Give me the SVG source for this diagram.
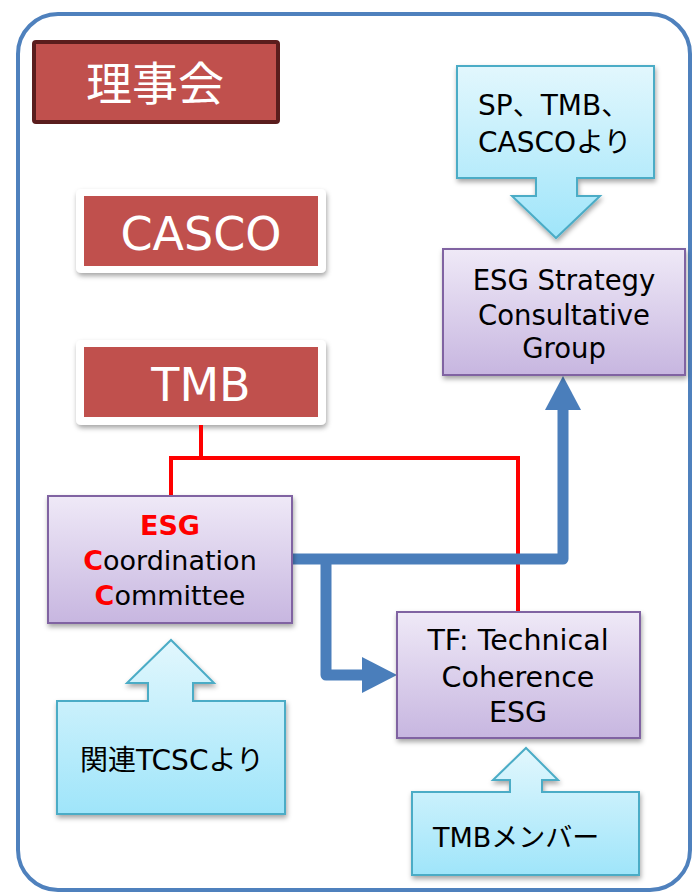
<svg xmlns="http://www.w3.org/2000/svg" width="693" height="892" viewBox="0 0 693 892">
<defs>
<linearGradient id="gPurple" x1="0" y1="0" x2="0" y2="1">
<stop offset="0" stop-color="#efe9f7"/>
<stop offset="1" stop-color="#c7b6e0"/>
</linearGradient>
<linearGradient id="gCyan" x1="0" y1="0" x2="0" y2="1">
<stop offset="0" stop-color="#e2f7fd"/>
<stop offset="1" stop-color="#9fe5fa"/>
</linearGradient>
<filter id="sh" x="-10%" y="-10%" width="125%" height="130%">
<feDropShadow dx="1" dy="3" stdDeviation="2.5" flood-color="#000" flood-opacity="0.35"/>
</filter>
</defs>
<style>
text{font-family:"DejaVu Sans","Noto Sans CJK JP",sans-serif;}
.red{fill:#c0504d;}
.wb{fill:#fff;filter:url(#sh);}
.wt{fill:#fff;font-size:46px;text-anchor:middle;}
.pbox{fill:url(#gPurple);stroke:#8064a2;stroke-width:2;filter:url(#sh);}
.cbox{fill:url(#gCyan);stroke:#4bacc6;stroke-width:2;stroke-linejoin:miter;filter:url(#sh);}
.bt{fill:#000;font-size:28px;}
.mid{text-anchor:middle;}
.rl{fill:none;stroke:#ff0000;stroke-width:4;}
.bl{fill:none;stroke:#4a7ebb;stroke-width:11;stroke-linejoin:round;}
.ah{fill:#4a7ebb;}
</style>
<rect x="18" y="14" width="672" height="876" rx="40" ry="40" fill="#fff" stroke="#4f81bd" stroke-width="4"/>

<g id="rijikai">
<rect x="34" y="42" width="244" height="80" rx="2" fill="#c0504d" stroke="#5a1d1d" stroke-width="4"/>
<text x="155" y="100" class="wt">理事会</text>
</g>

<g id="casco">
<rect x="76" y="189" width="250" height="84" rx="5" class="wb"/>
<rect x="84" y="196" width="234" height="70" class="red"/>
<text x="201" y="250" class="wt">CASCO</text>
</g>

<g id="tmb">
<rect x="76" y="340" width="250" height="85" rx="5" class="wb"/>
<rect x="84" y="347" width="234" height="70" class="red"/>
<text x="201" y="401" class="wt">TMB</text>
</g>

<g id="connectors">
<polyline class="rl" points="201,425 201,458 171,458 171,496"/>
<polyline class="rl" points="201,458 518,458 518,612"/>
<polyline class="bl" points="292,559 563,559 563,408"/>
<polygon class="ah" points="545,410 581,410 563,376"/>
<polyline class="bl" points="326,559 326,675 364,675"/>
<polygon class="ah" points="362,657 362,693 397,675"/>
</g>

<g id="sp-callout">
<polygon class="cbox" points="457,66 654,66 654,178 577,178 577,196 600,196 556,238 512,196 536,196 536,178 457,178"/>
<text x="478" y="115" class="bt">SP、TMB、</text>
<text x="478" y="152" class="bt">CASCOより</text>
</g>

<g id="esg-scg">
<rect x="443" y="249" width="242" height="126" class="pbox"/>
<text x="564" y="290" class="bt mid" style="font-size:27.5px">ESG Strategy</text>
<text x="564" y="325" class="bt mid" style="font-size:27.5px">Consultative</text>
<text x="564" y="358" class="bt mid" style="font-size:27.5px">Group</text>
</g>

<g id="esg-cc">
<rect x="48" y="496" width="244" height="127" class="pbox"/>
<text x="170" y="535" class="mid" style="font-size:27px;font-weight:bold;fill:#ff0000">ESG</text>
<text x="170" y="570" class="bt mid" style="font-size:27px"><tspan style="fill:#ff0000;font-weight:bold">C</tspan>oordination</text>
<text x="170" y="605" class="bt mid" style="font-size:27px"><tspan style="fill:#ff0000;font-weight:bold">C</tspan>ommittee</text>
</g>

<g id="tf-tc">
<rect x="397" y="612" width="243" height="126" class="pbox"/>
<text x="518" y="650" class="bt mid" style="font-size:28.5px">TF: Technical</text>
<text x="518" y="687" class="bt mid" style="font-size:28.5px">Coherence</text>
<text x="518" y="722" class="bt mid" style="font-size:28.5px">ESG</text>
</g>

<g id="tcsc-callout">
<polygon class="cbox" points="57,701 148,701 148,683 127,683 171,640 214,683 193,683 193,701 285,701 285,814 57,814"/>
<text x="172" y="770" class="bt mid">関連TCSCより</text>
</g>

<g id="tmb-callout">
<polygon class="cbox" points="412,792 510,792 510,780 493,780 526,748 558,780 542,780 542,792 639,792 639,875 412,875"/>
<text x="433" y="847" class="bt" style="font-size:27px">TMBメンバー</text>
</g>
</svg>
